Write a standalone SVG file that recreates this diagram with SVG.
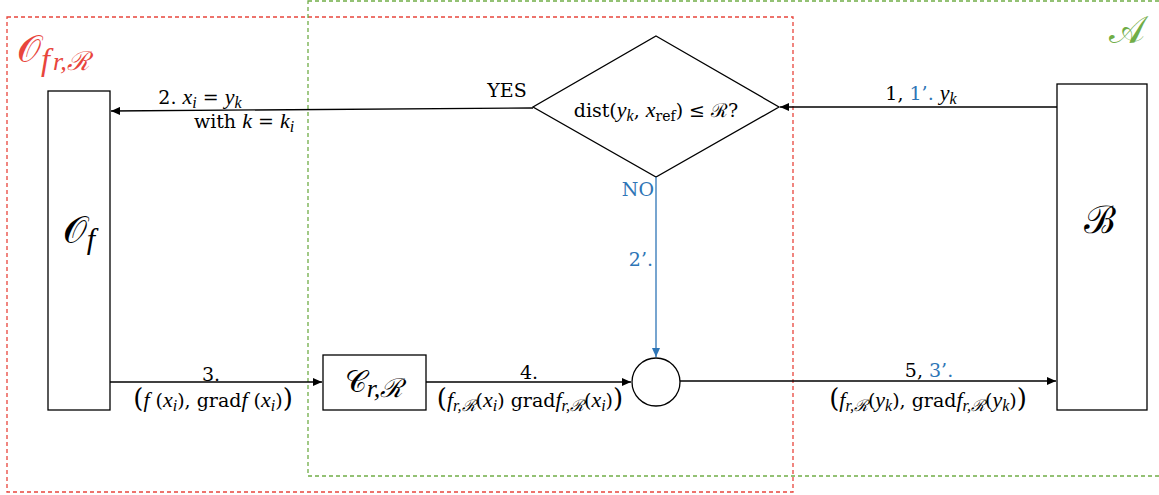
<svg xmlns="http://www.w3.org/2000/svg" width="1159" height="495" viewBox="0 0 1159 495">
<style>
.t{font-family:"DejaVu Serif","Liberation Serif",serif;font-size:19px;fill:#000}
.i{font-family:"Liberation Serif",serif;font-style:italic;font-size:22px}
.s{font-size:14px}
.si{font-family:"Liberation Serif",serif;font-style:italic;font-size:16px}
.blue{fill:#2E75B6}
.box{fill:#fff;stroke:#000;stroke-width:1.3}
.conn{stroke:#000;stroke-width:1.3;fill:none}
.big{font-size:38px}
.p{font-size:26px;font-weight:normal}
</style>
<defs>
<marker id="ah" markerUnits="userSpaceOnUse" markerWidth="10" markerHeight="8" refX="9" refY="4" orient="auto"><path d="M0,0 L9,4 L0,8 z" fill="#000"/></marker>
<marker id="ahb" markerUnits="userSpaceOnUse" markerWidth="10" markerHeight="8" refX="9" refY="4" orient="auto"><path d="M0,0 L9,4 L0,8 z" fill="#2E75B6"/></marker>
</defs>
<rect width="1159" height="495" fill="#fff"/>
<g id="region-O">
<rect x="7" y="17" width="786" height="475" fill="none" stroke="#E8453C" stroke-width="1.3" stroke-dasharray="4 3"/>
<text class="t" x="17" y="62" style="fill:#E8453C"><tspan class="big">𝒪</tspan><tspan class="i" style="font-size:32px" dy="8">f</tspan><tspan class="si" style="font-size:26px" dx="3">r,ℛ</tspan></text>
</g>
<g id="region-A">
<rect x="308" y="1" width="860" height="475" fill="none" stroke="#70AD47" stroke-width="1.3" stroke-dasharray="4 3"/>
<text class="t big" x="1109" y="43" style="fill:#70AD47">𝒜</text>
</g>
<g id="node-Of">
<rect class="box" x="48" y="91" width="62" height="319"/>
<text class="t" x="79" y="243" text-anchor="middle"><tspan class="big">𝒪</tspan><tspan class="i" style="font-size:30px" dy="6">f</tspan></text>
</g>
<g id="node-B">
<rect class="box" x="1057" y="84" width="90" height="326"/>
<text class="t big" x="1100" y="233" text-anchor="middle">ℬ</text>
</g>
<g id="node-C">
<rect class="box" x="323" y="355" width="103" height="55"/>
<text class="t" x="374" y="392" text-anchor="middle"><tspan style="font-size:30px">𝒞</tspan><tspan class="si" style="font-size:26px" dy="5">r,ℛ</tspan></text>
</g>
<g id="node-decision">
<polygon class="box" points="656,36 779,107 656,177 533,107"/>
<text class="t" x="656" y="117" text-anchor="middle">dist(<tspan class="i">y</tspan><tspan class="si" dy="4">k</tspan><tspan dy="-4">, </tspan><tspan class="i">x</tspan><tspan class="s" dy="4">ref</tspan><tspan dy="-4">) ≤ ℛ?</tspan></text>
</g>
<g id="node-join">
<circle class="box" cx="656" cy="382" r="24"/>
</g>
<g id="connectors">
<line class="conn" x1="1057" y1="107" x2="780" y2="107" marker-end="url(#ah)"/>
<line class="conn" x1="533" y1="108" x2="111" y2="111" marker-end="url(#ah)"/>
<line x1="656" y1="177" x2="656" y2="357" stroke="#2E75B6" stroke-width="1.3" marker-end="url(#ahb)"/>
<line class="conn" x1="110" y1="382" x2="322" y2="382" marker-end="url(#ah)"/>
<line class="conn" x1="426" y1="382" x2="631" y2="382" marker-end="url(#ah)"/>
<line class="conn" x1="680" y1="381" x2="1056" y2="381" marker-end="url(#ah)"/>
</g>
<g id="labels">
<text class="t" x="921" y="100" text-anchor="middle">1, <tspan class="blue">1’.</tspan> <tspan class="i">y</tspan><tspan class="si" dy="4">k</tspan></text>
<text class="t" x="507" y="97" text-anchor="middle">YES</text>
<text class="t" x="200" y="104" text-anchor="middle">2. <tspan class="i">x</tspan><tspan class="si" dy="4">i</tspan><tspan dy="-4"> = </tspan><tspan class="i">y</tspan><tspan class="si" dy="4">k</tspan></text>
<text class="t" x="244" y="128" text-anchor="middle">with <tspan class="i">k</tspan> = <tspan class="i">k</tspan><tspan class="si" dy="4">i</tspan></text>
<text class="t blue" x="654" y="196" text-anchor="end">NO</text>
<text class="t blue" x="653" y="266" text-anchor="end">2’.</text>
<text class="t" x="211" y="381" text-anchor="middle">3.</text>
<text class="t" x="213" y="407" text-anchor="middle"><tspan class="p">(</tspan><tspan class="i">f</tspan> (<tspan class="i">x</tspan><tspan class="si" dy="4">i</tspan><tspan dy="-4">), grad</tspan><tspan class="i">f</tspan> (<tspan class="i">x</tspan><tspan class="si" dy="4">i</tspan><tspan dy="-4">)</tspan><tspan class="p">)</tspan></text>
<text class="t" x="529" y="379" text-anchor="middle">4.</text>
<text class="t" x="530" y="407" text-anchor="middle"><tspan class="p">(</tspan><tspan class="i">f</tspan><tspan class="si" dy="4">r,ℛ</tspan><tspan dy="-4">(</tspan><tspan class="i">x</tspan><tspan class="si" dy="4">i</tspan><tspan dy="-4">)  grad</tspan><tspan class="i">f</tspan><tspan class="si" dy="4">r,ℛ</tspan><tspan dy="-4">(</tspan><tspan class="i">x</tspan><tspan class="si" dy="4">i</tspan><tspan dy="-4">)</tspan><tspan class="p">)</tspan></text>
<text class="t" x="929" y="377" text-anchor="middle">5, <tspan class="blue">3’.</tspan></text>
<text class="t" x="928" y="407" text-anchor="middle"><tspan class="p">(</tspan><tspan class="i">f</tspan><tspan class="si" dy="4">r,ℛ</tspan><tspan dy="-4">(</tspan><tspan class="i">y</tspan><tspan class="si" dy="4">k</tspan><tspan dy="-4">), grad</tspan><tspan class="i">f</tspan><tspan class="si" dy="4">r,ℛ</tspan><tspan dy="-4">(</tspan><tspan class="i">y</tspan><tspan class="si" dy="4">k</tspan><tspan dy="-4">)</tspan><tspan class="p">)</tspan></text>
</g>
</svg>
